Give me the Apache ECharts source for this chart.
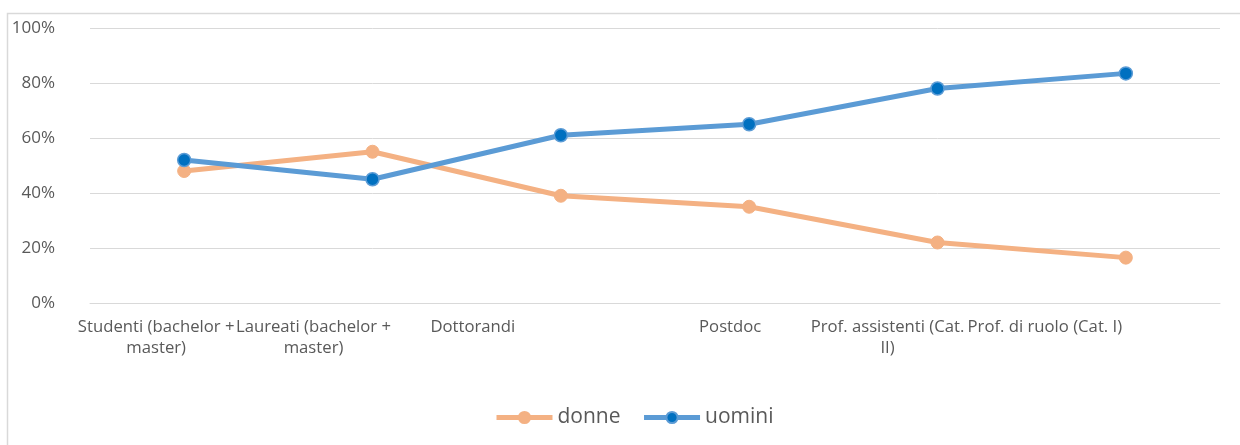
<!DOCTYPE html>
<html>
<head>
<meta charset="utf-8">
<script src="https://cdn.jsdelivr.net/npm/echarts@6/dist/echarts.min.js"></script>
<style>
html,body{margin:0;padding:0;background:#fff;}
#chart{width:1240px;height:445px;}
</style>
</head>
<body>
<div id="chart"></div>
<script>
const categories = [
  'Studenti (bachelor +\nmaster)',
  'Laureati (bachelor +\nmaster)',
  'Dottorandi',
  'Postdoc',
  'Prof. assistenti (Cat.\nII)',
  'Prof. di ruolo (Cat. I)'
];
const seriesNames = ['donne', 'uomini'];
const donne = [48, 55, 39, 35, 22, 16.5];
const uomini = [52, 45, 61, 65, 78, 83.5];
const yTicks = [0, 20, 40, 60, 80, 100];

// label horizontal offsets (layout only, px to the left of the tick)
const labelShift = [28, 59, 88, 19, 50, 81];

const FONT = "'Open Sans', 'Liberation Sans', sans-serif";
const TXT = '#595959';

const rich = {};
labelShift.forEach((s, i) => {
  rich['s' + i] = {
    fontFamily: FONT, fontSize: 16.7, color: TXT, lineHeight: 21,
    padding: [0, 2 * s, 0, 0]
  };
});

const chart = echarts.init(document.getElementById('chart'));
chart.setOption({
  animation: false,
  backgroundColor: '#fff',
  graphic: [{
    type: 'rect', silent: true, z: -10,
    shape: { x: 7.5, y: 13.5, width: 1400, height: 600 },
    style: { fill: 'none', stroke: '#D9D9D9', lineWidth: 1.5 }
  }],
  grid: { left: 90, right: 20, top: 28, bottom: 142, containLabel: false, outerBoundsMode: 'none' },
  legend: {
    data: seriesNames,
    left: 489, top: 402,
    itemWidth: 56, itemHeight: 14, itemGap: 21,
    lineStyle: { width: 5 },
    textStyle: { fontFamily: FONT, fontSize: 21, color: TXT }
  },
  xAxis: {
    type: 'category',
    data: categories,
    boundaryGap: true,
    axisLine: { show: true, lineStyle: { color: '#D9D9D9', width: 1 } },
    axisTick: { show: false },
    axisLabel: {
      interval: 0, margin: 14, hideOverlap: false,
      formatter: (v, i) => v.split('\n').map(l => '{s' + i + '|' + l + '}').join('\n'),
      rich: rich
    }
  },
  yAxis: {
    type: 'value',
    min: yTicks[0], max: yTicks[yTicks.length - 1], interval: 20,
    axisLine: { show: false },
    axisTick: { show: false },
    splitLine: { lineStyle: { color: '#D9D9D9', width: 1 } },
    axisLabel: {
      margin: 35, fontFamily: FONT, fontSize: 17, color: TXT,
      formatter: v => v + '%'
    }
  },
  series: [
    {
      name: seriesNames[0], type: 'line', data: donne,
      symbol: 'circle', symbolSize: 13,
      lineStyle: { color: '#F4B183', width: 5 },
      itemStyle: { color: '#F4B183', borderColor: '#F4B183', borderWidth: 1 },
      z: 2
    },
    {
      name: seriesNames[1], type: 'line', data: uomini,
      symbol: 'circle', symbolSize: 13,
      lineStyle: { color: '#5B9BD5', width: 5 },
      itemStyle: { color: '#0070C0', borderColor: '#5B9BD5', borderWidth: 1.5 },
      z: 3
    }
  ]
});
</script>
</body>
</html>
